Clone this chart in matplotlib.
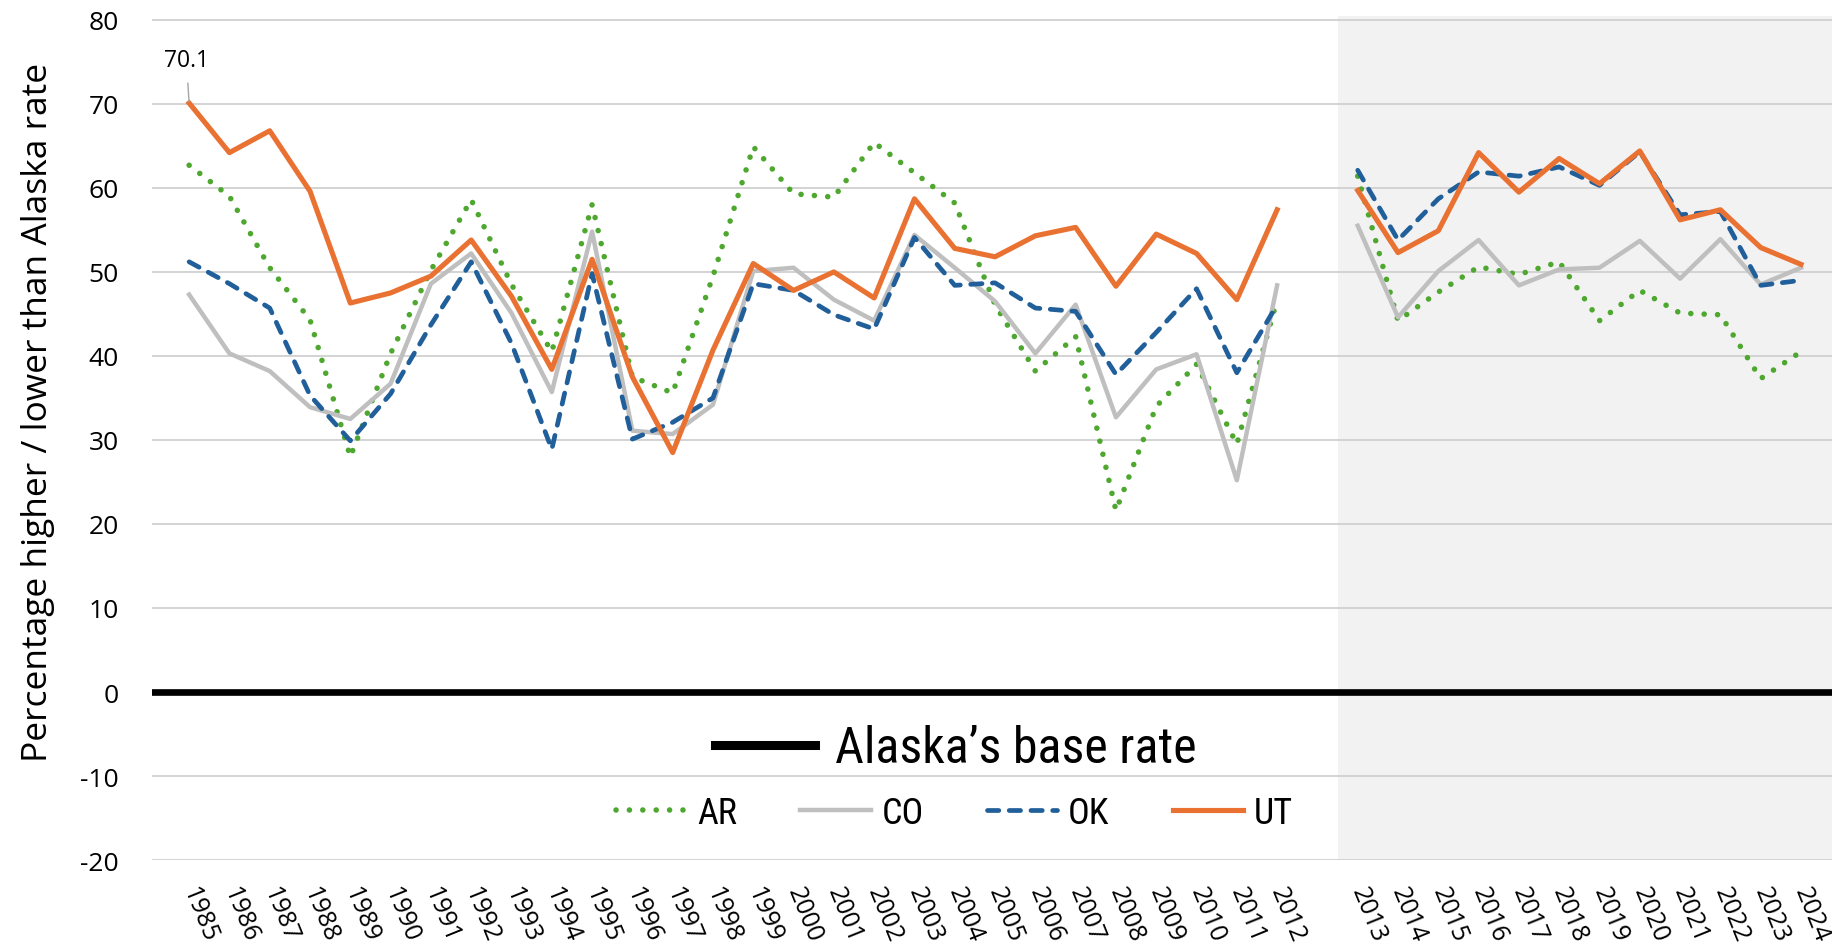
import matplotlib.pyplot as plt
from matplotlib.lines import Line2D
from matplotlib import font_manager

# categories
years_early = list(range(1985, 2013))
years_late = list(range(2013, 2025))

# percentage higher / lower than Alaska rate, 1985-2012
ar_early = [62.7, 59.0, 50.5, 44.3, 28.0, 40.3, 50.2, 58.6, 48.5, 40.5, 58.0, 37.5, 35.6, 49.5,
            64.9, 59.3, 58.9, 65.4, 61.8, 58.2, 46.1, 38.2, 42.3, 21.6, 34.0, 39.0, 29.5, 46.7]
co_early = [47.3, 40.3, 38.2, 33.9, 32.5, 36.7, 48.6, 52.2, 45.1, 35.7, 54.8, 31.1, 30.7, 34.2,
            50.1, 50.5, 46.7, 44.2, 54.4, 50.5, 46.5, 40.3, 46.1, 32.7, 38.4, 40.2, 25.2, 48.4]
ok_early = [51.2, 48.6, 45.7, 35.3, 29.9, 35.5, 43.7, 51.2, 41.5, 28.9, 49.8, 30.1, 32.1, 35.0,
            48.6, 47.8, 44.9, 43.2, 54.1, 48.4, 48.7, 45.7, 45.3, 37.8, 42.8, 48.0, 38.0, 46.1]
ut_early = [70.1, 64.2, 66.8, 59.6, 46.3, 47.5, 49.5, 53.8, 47.1, 38.4, 51.5, 37.5, 28.5, 40.7,
            51.0, 47.8, 50.0, 46.9, 58.7, 52.8, 51.8, 54.3, 55.3, 48.3, 54.5, 52.2, 46.7, 57.4]

# 2013-2024
ar_late = [61.4, 44.2, 47.6, 50.6, 49.7, 51.2, 44.2, 47.8, 45.1, 44.9, 37.3, 40.5]
co_late = [55.5, 44.6, 50.1, 53.8, 48.4, 50.3, 50.5, 53.7, 49.2, 53.9, 48.5, 50.5]
ok_late = [62.1, 53.8, 58.7, 61.9, 61.4, 62.5, 60.3, 64.3, 56.8, 57.2, 48.4, 49.0]
ut_late = [59.7, 52.3, 54.9, 64.2, 59.5, 63.5, 60.5, 64.4, 56.2, 57.4, 52.9, 50.9]

names = ['AR', 'CO', 'OK', 'UT']
early = [ar_early, co_early, ok_early, ut_early]
late = [ar_late, co_late, ok_late, ut_late]

styles = {
    'AR': dict(color='#4EA72E', lw=4.0, ls=(0, (0.01, 2.4)), dash_capstyle='round'),
    'CO': dict(color='#BFBFBF', lw=3.2, ls='-'),
    'OK': dict(color='#215F9A', lw=3.4, ls=(0, (2.4, 2.2)), dash_capstyle='round'),
    'UT': dict(color='#E97132', lw=3.7, ls='-'),
}

plt.rcParams['font.family'] = ['Open Sans', 'DejaVu Sans']
plt.rcParams['axes.unicode_minus'] = False


# legend text is condensed in the original; look for any condensed sans installed
def pick_narrow():
    prefer = ['Liberation Sans Narrow', 'Roboto Condensed', 'Open Sans Condensed',
              'Noto Sans', 'Open Sans', 'Roboto']
    found = {}
    for f in font_manager.fontManager.ttflist:
        w = f.weight if isinstance(f.weight, int) else {'normal': 400, 'regular': 400}.get(str(f.weight), 0)
        if f.style != 'normal' or w != 400:
            continue
        if 'Narrow' in f.name or 'Condensed' in f.name or str(f.stretch) in ('condensed', 'semi-condensed'):
            found.setdefault(f.name, f.fname)
    for p in prefer:
        if p in found:
            return font_manager.FontProperties(fname=found[p])
    if found:
        return font_manager.FontProperties(fname=list(found.values())[0])
    return font_manager.FontProperties(family='Roboto')


narrow = pick_narrow()

# x positions: one empty slot between 2012 and 2013
x_early = list(range(len(years_early)))
x_late = [len(years_early) + 1 + i for i in range(len(years_late))]

fig = plt.figure(figsize=(18.32, 9.53), dpi=100)
ax = fig.add_axes([0.083, 0.0965, 0.917, 0.886])

x_left, x_right = -0.92, 40.77
ax.axvspan(len(years_early) + 0.5, x_right, color='#F2F2F2', zorder=0.1, lw=0)

for y in range(-20, 90, 10):
    if y != 0:
        ax.axhline(y, color='#D0D0D0', lw=1.3, zorder=0.5)
ax.axhline(0, color='black', lw=4.8, zorder=1)

for name, e, l in zip(names, early, late):
    st = styles[name]
    ax.plot(x_early, e, zorder=3, **st)
    ax.plot(x_late, l, zorder=3, **st)

ax.annotate('70.1', xy=(x_early[0], ut_early[0]), xytext=(-2, 31), textcoords='offset points',
            ha='center', va='center', fontsize=16.5,
            arrowprops=dict(arrowstyle='-', color='#A6A6A6', lw=1.0, shrinkA=6, shrinkB=1))

ax.set_xlim(x_left, x_right)
ax.set_ylim(-20, 80.5)
ax.set_yticks(range(-20, 90, 10))
ax.tick_params(axis='y', length=0, pad=24, labelsize=19)
ax.set_xticks(x_early + x_late, [str(y) for y in years_early + years_late],
              rotation=-68, ha='left', va='center', rotation_mode='anchor')
ax.tick_params(axis='x', length=0, pad=20, labelsize=18)
for s in ax.spines.values():
    s.set_visible(False)

ax.set_ylabel('Percentage higher / lower than Alaska rate', fontsize=25.5)
ax.yaxis.set_label_coords(-0.058, 0.531)

p1 = narrow.copy()
p1.set_size(36)
p2 = narrow.copy()
p2.set_size(26)
leg1 = fig.legend([Line2D([], [], color='black', lw=6.5)], ["Alaska\u2019s base rate"],
                  loc='center', bbox_to_anchor=(0.522, 0.214), frameon=False,
                  handlelength=2.0, handletextpad=0.4, prop=p1)
handles = [Line2D([], [], **styles[n]) for n in names]
leg2 = fig.legend(handles, names, loc='center', bbox_to_anchor=(0.521, 0.146), ncol=4,
                  frameon=False, handlelength=1.95, handletextpad=0.3, columnspacing=1.75,
                  prop=p2)

fig.savefig('out.png', dpi=100)
